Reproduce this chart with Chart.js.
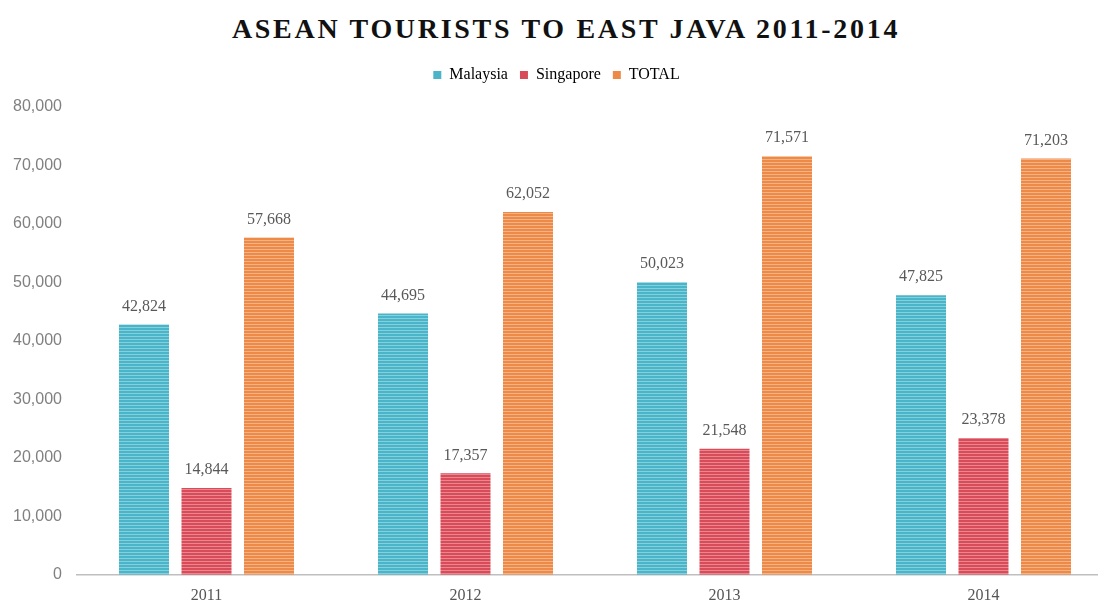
<!DOCTYPE html>
<html>
<head>
<meta charset="utf-8">
<script src="https://cdn.jsdelivr.net/npm/chart.js@4"></script>
<style>
  html, body { margin: 0; background: #fff; overflow: hidden; }
  #title {
    width: 1132px; height: 55px; line-height: 57px; text-align: center;
    font-family: "Liberation Serif", serif; font-weight: bold; font-size: 28px;
    letter-spacing: 2.7px; color: #111;
  }
  #wrap { position: relative; width: 1132px; height: 553px; }
</style>
</head>
<body>
<div id="title">ASEAN TOURISTS TO EAST JAVA 2011-2014</div>
<div id="wrap"><canvas id="tourChart"></canvas></div>
<script>
const years = ['2011', '2012', '2013', '2014'];
const malaysia = [42824, 44695, 50023, 47825];
const singapore = [14844, 17357, 21548, 23378];
const total = [57668, 62052, 71571, 71203];
const yTicks = [0, 10000, 20000, 30000, 40000, 50000, 60000, 70000, 80000];

// horizontal stripes like the original bars
function stripes(base, light) {
  const c = document.createElement('canvas');
  c.width = 4; c.height = 3;
  const g = c.getContext('2d');
  g.fillStyle = base; g.fillRect(0, 0, 4, 3);
  g.fillStyle = light; g.fillRect(0, 2, 4, 1);
  return g.createPattern(c, 'repeat');
}

const valueLabels = {
  id: 'valueLabels',
  afterDatasetsDraw(chart) {
    const ctx = chart.ctx;
    ctx.save();
    ctx.font = '16px "Liberation Serif", serif';
    ctx.fillStyle = '#595959';
    ctx.textAlign = 'center';
    ctx.textBaseline = 'bottom';
    chart.data.datasets.forEach((ds, i) => {
      chart.getDatasetMeta(i).data.forEach((bar, j) => {
        ctx.fillText(ds.data[j].toLocaleString('en-US'), bar.x, bar.y - 10);
      });
    });
    ctx.restore();
  }
};

// extra gap under the legend
const legendGap = {
  id: 'legendGap',
  afterInit(chart) {
    const fit = chart.legend.fit;
    chart.legend.fit = function () {
      fit.call(this);
      this.height += 14;
    };
  }
};

const ctx = document.getElementById('tourChart').getContext('2d');
const tourChart = new Chart(ctx, {
  type: 'bar',
  data: {
    labels: years,
    datasets: [
      { label: 'Malaysia', data: malaysia, backgroundColor: stripes('#4ab4c8', '#86cfdd'), legendColor: '#4ab4c8' },
      { label: 'Singapore', data: singapore, backgroundColor: stripes('#d84c59', '#e98690'), legendColor: '#d84c59' },
      { label: 'TOTAL', data: total, backgroundColor: stripes('#ee8a48', '#f5b385'), legendColor: '#ee8a48' }
    ]
  },
  options: {
    responsive: true,
    maintainAspectRatio: false,
    animation: false,
    categoryPercentage: 0.724,
    barPercentage: 0.8,
    layout: { padding: { top: 0, right: 19, left: 0, bottom: 0 } },
    plugins: {
      title: { display: false },
      tooltip: { enabled: false },
      legend: {
        position: 'top',
        labels: {
          boxWidth: 8, boxHeight: 8, padding: 12,
          color: '#666',
          font: { family: '"Liberation Serif", serif', size: 16 },
          generateLabels(chart) {
            return chart.data.datasets.map((ds, i) => ({
              text: ds.label, fillStyle: ds.legendColor, strokeStyle: ds.legendColor,
              lineWidth: 0, datasetIndex: i, hidden: false
            }));
          }
        }
      }
    },
    scales: {
      x: {
        grid: { display: false },
        border: { display: true, color: '#bfbfbf', width: 1.5 },
        ticks: { color: '#555', padding: 3, font: { family: '"Liberation Serif", serif', size: 16 } }
      },
      y: {
        min: 0, max: 80000,
        grid: { display: false, drawTicks: false },
        border: { display: false },
        afterFit(scale) { scale.width = 77; },
        afterBuildTicks(scale) { scale.ticks = yTicks.map(v => ({ value: v })); },
        ticks: {
          color: '#808080', padding: 15,
          font: { family: '"Liberation Sans", sans-serif', size: 16 },
          callback: v => v.toLocaleString('en-US')
        }
      }
    }
  },
  plugins: [valueLabels, legendGap]
});
</script>
</body>
</html>
